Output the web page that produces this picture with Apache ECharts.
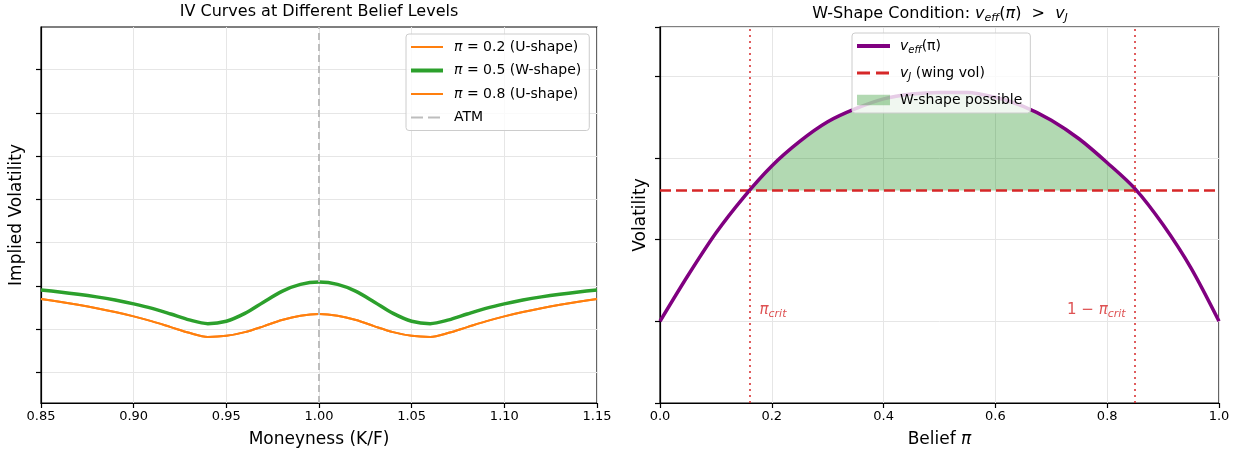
<!DOCTYPE html>
<html>
<head>
<meta charset="utf-8">
<script src="https://cdn.jsdelivr.net/npm/echarts@6/dist/echarts.min.js"></script>
<style>
  html, body { margin: 0; padding: 0; background: #fff; }
  #chart { width: 1246px; height: 458px; }
</style>
</head>
<body>
<div id="chart"></div>
<script>
// 左图：不同信念水平下的隐含波动率曲线
var moneyness = [0.85, 0.86, 0.87, 0.88, 0.89, 0.90, 0.91, 0.92, 0.93, 0.94, 0.95,
  0.96, 0.97, 0.98, 0.99, 1.00, 1.01, 1.02, 1.03, 1.04, 1.05, 1.06, 1.07, 1.08,
  1.09, 1.10, 1.11, 1.12, 1.13, 1.14, 1.15];
var ivPi02 = [0.2350, 0.2318, 0.2283, 0.2244, 0.2200, 0.2150, 0.2092, 0.2026, 0.1960, 0.1913, 0.1925,
  0.1968, 0.2035, 0.2108, 0.2158, 0.2177, 0.2158, 0.2108, 0.2035, 0.1968, 0.1925, 0.1913, 0.1960, 0.2026,
  0.2092, 0.2150, 0.2200, 0.2244, 0.2283, 0.2318, 0.2350];
var ivPi05 = [0.2454, 0.2432, 0.2406, 0.2375, 0.2338, 0.2294, 0.2242, 0.2177, 0.2109, 0.2066, 0.2094,
  0.2184, 0.2314, 0.2439, 0.2519, 0.2546, 0.2519, 0.2439, 0.2314, 0.2184, 0.2094, 0.2066, 0.2109, 0.2177,
  0.2242, 0.2294, 0.2338, 0.2375, 0.2406, 0.2432, 0.2454];
var ivPi08 = [0.2350, 0.2318, 0.2283, 0.2244, 0.2200, 0.2150, 0.2092, 0.2026, 0.1960, 0.1913, 0.1925,
  0.1968, 0.2035, 0.2108, 0.2158, 0.2177, 0.2158, 0.2108, 0.2035, 0.1968, 0.1925, 0.1913, 0.1960, 0.2026,
  0.2092, 0.2150, 0.2200, 0.2244, 0.2283, 0.2318, 0.2350];
var atm = 1.0;
var ivTicks = [0.15, 0.20, 0.25, 0.30, 0.35, 0.40, 0.45, 0.50];

// 右图：W形条件
var belief = [0, 0.05, 0.10, 0.15, 0.20, 0.25, 0.30, 0.35, 0.40, 0.45, 0.50,
  0.55, 0.60, 0.65, 0.70, 0.75, 0.80, 0.85, 0.90, 0.95, 1.0];
var vEff = [0.050, 0.078, 0.104, 0.126, 0.145, 0.160, 0.172, 0.180, 0.186, 0.189, 0.190,
  0.190, 0.187, 0.1815, 0.173, 0.1615, 0.147, 0.131, 0.109, 0.0825, 0.050];
var vJ = 0.13;
var piCritLo = 0.158;   // π_crit
var piCritHi = 0.853;   // 1 − π_crit

function pairs(xs, ys) {
  return xs.map(function (x, i) { return [x, ys[i]]; });
}

var fillData = [[piCritLo, vJ]];
belief.forEach(function (p, i) {
  if (p > piCritLo && p < piCritHi) fillData.push([p, vEff[i]]);
});
fillData.push([piCritHi, vJ]);

var myChart = echarts.init(document.getElementById('chart'));

var FONT = 'DejaVu Sans';
var SMOOTH = 0.3;
// 图例图标（线段 / 虚线 / 色块）
var ICON_THIN = 'path://M0,0H32V2H0Z';
var ICON_THICK = 'path://M0,0H32V4H0Z';
var ICON_DASH = 'path://M0,0H12V2H0Z M17,0H29V2H17Z M31.9,0H32V0.01H31.9Z';
var ICON_PURPLE = 'path://M0,0H33V4H0Z';
var ICON_RDASH = 'path://M0,0H13V3H0Z M19,0H32V3H19Z M32.9,0H33V0.01H32.9Z';
var ICON_PATCH = 'path://M0,0H31V10H0Z';

var mathRich = {
  i: { fontStyle: 'italic', fontFamily: FONT, fontSize: 14 },
  sub: { fontStyle: 'italic', fontFamily: FONT, fontSize: 10, padding: [8, 0, 0, 0] }
};

var option = {
  animation: false,
  textStyle: { fontFamily: FONT },
  title: [
    {
      text: 'IV Curves at Different Belief Levels',
      left: 319, top: 4, textAlign: 'center', padding: 0,
      textStyle: { fontSize: 16, fontWeight: 'normal', color: '#000', fontFamily: FONT }
    },
    {
      text: 'W-Shape Condition: {i|v}{s|eff}({i|π})  >  {i|v}{s|J}',
      left: 940, top: 4, textAlign: 'center', padding: 0,
      textStyle: {
        fontSize: 16, fontWeight: 'normal', color: '#000', fontFamily: FONT,
        rich: {
          i: { fontStyle: 'italic', fontSize: 16, fontFamily: FONT },
          s: { fontStyle: 'italic', fontSize: 11, fontFamily: FONT, padding: [9, 0, 0, 0] }
        }
      }
    }
  ],
  legend: [
    {
      data: [
        { name: 'π = 0.2 (U-shape)', icon: ICON_THIN },
        { name: 'π = 0.5 (W-shape)', icon: ICON_THICK },
        { name: 'π = 0.8 (U-shape)', icon: ICON_THIN },
        { name: 'ATM', icon: ICON_DASH }
      ],
      orient: 'vertical',
      left: 406, top: 34,
      itemWidth: 32, itemHeight: 14, itemGap: 9.5,
      padding: [6, 8, 6, 5],
      backgroundColor: 'rgba(255,255,255,0.8)',
      borderColor: '#cccccc', borderWidth: 1, borderRadius: 3,
      formatter: function (name) { return name.replace('π', '{i|π}'); },
      textStyle: {
        fontSize: 14, color: '#000', fontFamily: FONT, padding: [0, 0, 0, 6],
        rich: { i: { fontStyle: 'italic', fontSize: 14, fontFamily: FONT } }
      }
    },
    {
      data: [
        { name: 'veff', icon: ICON_PURPLE },
        { name: 'vJ', icon: ICON_RDASH },
        { name: 'W-shape possible', icon: ICON_PATCH }
      ],
      orient: 'vertical',
      left: 852, top: 33,
      itemWidth: 33, itemHeight: 12, itemGap: 11,
      padding: [6, 8, 6, 5],
      backgroundColor: 'rgba(255,255,255,0.8)',
      borderColor: '#cccccc', borderWidth: 1, borderRadius: 3,
      formatter: function (name) {
        if (name === 'veff') return '{i|v}{sub|eff}(π)';
        if (name === 'vJ') return '{i|v}{sub|J} (wing vol)';
        return name;
      },
      textStyle: {
        fontSize: 14, color: '#000', fontFamily: FONT, padding: [0, 0, 0, 5],
        rich: mathRich
      }
    }
  ],
  grid: [
    { left: 41, top: 27, width: 556, height: 376, show: true, borderColor: '#000', borderWidth: 1.2, backgroundColor: 'transparent' },
    { left: 660, top: 27, width: 559, height: 376, show: true, borderColor: '#000', borderWidth: 1.2, backgroundColor: 'transparent' }
  ],
  xAxis: [
    {
      type: 'value', gridIndex: 0, min: 0.85, max: 1.15, interval: 0.05,
      name: 'Moneyness (K/F)', nameLocation: 'middle', nameGap: 28,
      nameTextStyle: { fontSize: 17, color: '#000', fontFamily: FONT },
      axisLine: { lineStyle: { color: '#000', width: 1.2 } },
      axisTick: { length: 5, lineStyle: { color: '#000', width: 1.2 } },
      axisLabel: { fontSize: 13, color: '#000', margin: 7, formatter: function (v) { return v.toFixed(2); } },
      splitLine: { lineStyle: { color: '#e6e6e6', width: 1 } }
    },
    {
      type: 'value', gridIndex: 1, min: 0, max: 1, interval: 0.2,
      name: 'Belief {i|π}', nameLocation: 'middle', nameGap: 28,
      nameTextStyle: { fontSize: 17, color: '#000', fontFamily: FONT, rich: { i: { fontStyle: 'italic', fontSize: 17, fontFamily: FONT } } },
      axisLine: { lineStyle: { color: '#000', width: 1.2 } },
      axisTick: { length: 5, lineStyle: { color: '#000', width: 1.2 } },
      axisLabel: { fontSize: 13, color: '#000', margin: 7, formatter: function (v) { return v.toFixed(1); } },
      splitLine: { lineStyle: { color: '#e6e6e6', width: 1 } }
    }
  ],
  yAxis: [
    {
      type: 'value', gridIndex: 0, min: 0.115, max: 0.549,
      name: 'Implied Volatility', nameLocation: 'middle', nameGap: 16,
      nameTextStyle: { fontSize: 17, color: '#000', fontFamily: FONT },
      axisLine: { show: true, lineStyle: { color: '#000', width: 1.2 } },
      axisTick: { show: true, length: 5, customValues: ivTicks, lineStyle: { color: '#000', width: 1.2 } },
      axisLabel: { show: false, customValues: ivTicks },
      splitLine: { show: true, lineStyle: { color: '#e6e6e6', width: 1 } }
    },
    {
      type: 'value', gridIndex: 1, min: 0, max: 0.23, interval: 0.05,
      name: 'Volatility', nameLocation: 'middle', nameGap: 11,
      nameTextStyle: { fontSize: 17, color: '#000', fontFamily: FONT },
      axisLine: { show: true, lineStyle: { color: '#000', width: 1.2 } },
      axisTick: { show: true, length: 5, lineStyle: { color: '#000', width: 1.2 } },
      axisLabel: { show: false },
      splitLine: { show: true, lineStyle: { color: '#e6e6e6', width: 1 } }
    }
  ],
  series: [
    {
      name: 'ATM', type: 'line', xAxisIndex: 0, yAxisIndex: 0, data: [],
      symbol: 'none',
      itemStyle: { color: '#bdbdbd' },
      lineStyle: { color: '#bdbdbd', width: 2, type: [7, 4] },
      markLine: {
        silent: true, symbol: 'none', label: { show: false },
        lineStyle: { color: '#bdbdbd', width: 2, type: [7, 4] },
        data: [{ xAxis: atm }]
      }
    },
    {
      name: 'π = 0.2 (U-shape)', type: 'line', xAxisIndex: 0, yAxisIndex: 0,
      data: pairs(moneyness, ivPi02), smooth: SMOOTH, symbol: 'none',
      itemStyle: { color: '#ff7f0e' }, lineStyle: { color: '#ff7f0e', width: 2 }
    },
    {
      name: 'π = 0.5 (W-shape)', type: 'line', xAxisIndex: 0, yAxisIndex: 0,
      data: pairs(moneyness, ivPi05), smooth: SMOOTH, symbol: 'none',
      itemStyle: { color: '#2ca02c' }, lineStyle: { color: '#2ca02c', width: 3.5 }
    },
    {
      name: 'π = 0.8 (U-shape)', type: 'line', xAxisIndex: 0, yAxisIndex: 0,
      data: pairs(moneyness, ivPi08), smooth: SMOOTH, symbol: 'none',
      itemStyle: { color: '#ff7f0e' }, lineStyle: { color: '#ff7f0e', width: 2 }
    },
    // ------- 右图 -------
    {
      name: 'W-shape possible', type: 'line', xAxisIndex: 1, yAxisIndex: 1,
      data: fillData, smooth: SMOOTH, symbol: 'none',
      itemStyle: { color: 'rgba(0,128,0,0.3)' },
      lineStyle: { width: 0, color: 'rgba(0,128,0,0.3)' },
      areaStyle: { color: 'rgba(0,128,0,0.3)', origin: vJ, opacity: 1 }
    },
    {
      name: 'vJ', type: 'line', xAxisIndex: 1, yAxisIndex: 1,
      data: pairs([0, 1], [vJ, vJ]), symbol: 'none',
      itemStyle: { color: '#d62728' }, lineStyle: { color: '#d62728', width: 2.5, type: [11, 5] }
    },
    {
      name: 'veff', type: 'line', xAxisIndex: 1, yAxisIndex: 1,
      data: pairs(belief, vEff), smooth: SMOOTH, symbol: 'none',
      itemStyle: { color: '#800080' }, lineStyle: { color: '#800080', width: 3.5 },
      markLine: {
        silent: true, symbol: 'none', label: { show: false },
        lineStyle: { color: 'rgba(214,39,40,0.75)', width: 2, type: [2, 4] },
        data: [{ xAxis: piCritLo }, { xAxis: piCritHi }]
      }
    },
    {
      name: 'labels', type: 'scatter', xAxisIndex: 1, yAxisIndex: 1,
      symbolSize: 0, silent: true,
      data: [
        { value: [piCritLo + 0.02, 0.057], label: { align: 'left', formatter: '{i|π}{s|crit}' } },
        { value: [piCritHi - 0.02, 0.057], label: { align: 'right', formatter: '1 − {i|π}{s|crit}' } }
      ],
      label: {
        show: true, position: 'inside', color: '#d62728', fontSize: 15, fontFamily: FONT,
        rich: {
          i: { fontStyle: 'italic', fontSize: 15, color: '#d62728', fontFamily: FONT },
          s: { fontStyle: 'italic', fontSize: 11, color: '#d62728', fontFamily: FONT, padding: [8, 0, 0, 0] }
        }
      }
    }
  ]
};

myChart.setOption(option);
</script>
</body>
</html>
